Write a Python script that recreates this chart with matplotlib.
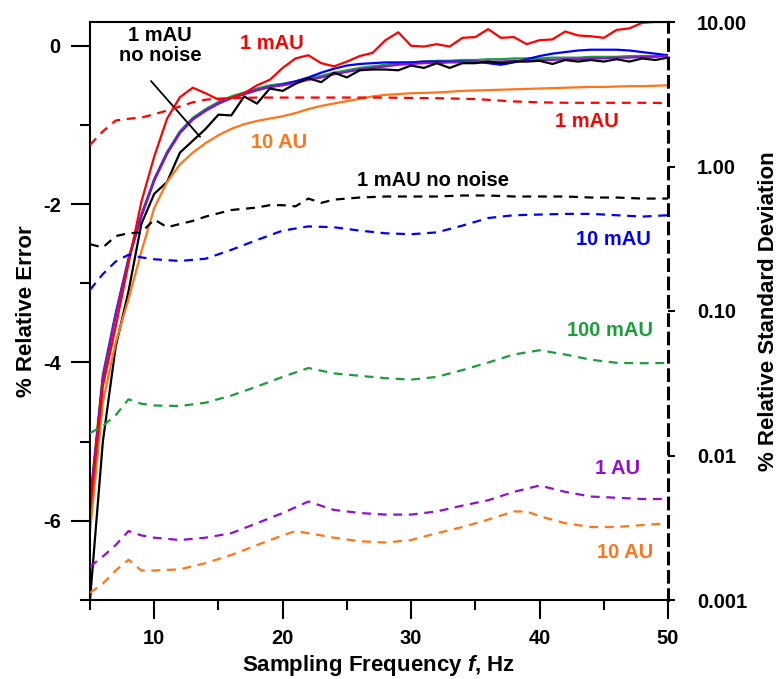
import numpy as np
import matplotlib
matplotlib.use('Agg')
import matplotlib.pyplot as plt
from matplotlib.ticker import FixedLocator, NullLocator, FixedFormatter

plt.rcParams['font.family'] = ['Liberation Sans', 'DejaVu Sans']
plt.rcParams['font.weight'] = 'bold'
plt.rcParams['axes.unicode_minus'] = False
plt.rcParams['mathtext.fontset'] = 'custom'
plt.rcParams['mathtext.it'] = 'Liberation Sans:italic:bold'
plt.rcParams['mathtext.rm'] = 'Liberation Sans:bold'

# sampling frequency (Hz) for the relative error curves
freq = list(range(5, 51))

# % relative error, solid lines (left axis)
err_1mAU = [-5.9, -4.3, -3.55, -2.75, -1.97, -1.4, -0.92, -0.65, -0.53, -0.6,
            -0.68, -0.66, -0.6, -0.5, -0.43, -0.28, -0.16, -0.12, -0.22, -0.26,
            -0.2, -0.13, -0.09, 0.07, 0.17, 0.0, -0.01, 0.02, -0.01, 0.1,
            0.11, 0.21, 0.1, 0.11, 0.02, 0.07, 0.08, 0.18, 0.13, 0.12,
            0.1, 0.2, 0.22, 0.29, 0.3, 0.3]
err_nonoise = [-7.0, -5.0, -3.8, -3.1, -2.25, -1.87, -1.72, -1.35, -1.2, -1.05,
               -0.87, -0.88, -0.64, -0.73, -0.54, -0.57, -0.48, -0.41, -0.46, -0.34,
               -0.4, -0.31, -0.3, -0.3, -0.31, -0.25, -0.28, -0.22, -0.28, -0.22,
               -0.22, -0.2, -0.22, -0.2, -0.2, -0.19, -0.23, -0.18, -0.2, -0.18,
               -0.2, -0.17, -0.2, -0.16, -0.18, -0.15]
err_10mAU = [-5.8, -4.2, -3.4, -2.7, -2.15, -1.7, -1.36, -1.1, -0.93, -0.82,
             -0.73, -0.66, -0.61, -0.56, -0.52, -0.49, -0.45, -0.4, -0.34, -0.29,
             -0.25, -0.23, -0.22, -0.21, -0.21, -0.21, -0.2, -0.2, -0.2, -0.2,
             -0.2, -0.22, -0.24, -0.21, -0.17, -0.13, -0.1, -0.08, -0.06, -0.05,
             -0.05, -0.05, -0.06, -0.08, -0.1, -0.12]
err_100mAU = [-5.75, -4.15, -3.37, -2.68, -2.13, -1.68, -1.34, -1.08, -0.91, -0.8,
              -0.71, -0.64, -0.59, -0.54, -0.5, -0.48, -0.45, -0.41, -0.38, -0.34,
              -0.31, -0.28, -0.26, -0.24, -0.22, -0.21, -0.2, -0.19, -0.19, -0.18,
              -0.18, -0.17, -0.17, -0.16, -0.16, -0.16, -0.15, -0.15, -0.15, -0.14,
              -0.14, -0.14, -0.13, -0.13, -0.13, -0.12]
err_1AU = [-5.8, -4.2, -3.4, -2.7, -2.15, -1.7, -1.36, -1.1, -0.93, -0.82,
           -0.73, -0.66, -0.61, -0.56, -0.52, -0.5, -0.47, -0.43, -0.4, -0.36,
           -0.33, -0.3, -0.28, -0.26, -0.24, -0.23, -0.22, -0.22, -0.21, -0.21,
           -0.2, -0.2, -0.2, -0.19, -0.19, -0.18, -0.18, -0.17, -0.17, -0.16,
           -0.16, -0.15, -0.15, -0.14, -0.14, -0.13]
err_10AU = [-6.14, -4.5, -3.75, -3.2, -2.6, -2.05, -1.72, -1.5, -1.35, -1.23,
            -1.13, -1.05, -0.99, -0.95, -0.92, -0.89, -0.85, -0.8, -0.76, -0.73,
            -0.7, -0.67, -0.64, -0.62, -0.61, -0.6, -0.595, -0.59, -0.58, -0.57,
            -0.565, -0.56, -0.555, -0.55, -0.545, -0.54, -0.535, -0.53, -0.525, -0.52,
            -0.52, -0.515, -0.51, -0.51, -0.505, -0.5]

# % relative standard deviation, dashed lines (right axis, log)
f_rsd_red = [5, 6, 7, 8, 9, 10, 11, 12, 13, 14, 15, 16, 18, 20, 22, 25, 28, 30, 32, 35, 38, 40, 42, 45, 48, 50]
rsd_1mAU = [1.41, 1.75, 2.08, 2.14, 2.18, 2.3, 2.44, 2.6, 2.78, 2.9, 2.95, 2.97, 3.0, 3.0,
            3.0, 3.0, 3.0, 2.98, 2.97, 2.93, 2.82, 2.78, 2.76, 2.76, 2.76, 2.75]
f_rsd_blk = [5, 6, 7, 8, 9, 10, 11, 12, 13, 14, 16, 18, 19, 20, 21, 22, 23, 24, 26, 28,
             30, 32, 34, 36, 38, 40, 42, 44, 46, 48, 50]
rsd_nonoise = [0.29, 0.275, 0.33, 0.345, 0.35, 0.43, 0.38, 0.4, 0.42, 0.45, 0.5, 0.52,
               0.54, 0.54, 0.53, 0.6, 0.56, 0.59, 0.61, 0.62, 0.62, 0.62, 0.63, 0.63,
               0.62, 0.62, 0.62, 0.61, 0.61, 0.6, 0.6]
f_rsd = [5, 6, 7, 8, 9, 10, 12, 14, 16, 18, 20, 22, 24, 26, 28, 30, 32, 34, 36, 38,
         40, 42, 44, 46, 48, 50]
rsd_10mAU = [0.14, 0.18, 0.22, 0.245, 0.235, 0.228, 0.222, 0.23, 0.265, 0.31, 0.36,
             0.385, 0.38, 0.36, 0.345, 0.34, 0.35, 0.39, 0.44, 0.46, 0.465, 0.47,
             0.47, 0.46, 0.45, 0.46]
rsd_100mAU = [0.0143, 0.016, 0.019, 0.0245, 0.0228, 0.0222, 0.022, 0.0232, 0.026, 0.03,
              0.035, 0.0403, 0.037, 0.0356, 0.0343, 0.0335, 0.035, 0.039, 0.044, 0.05,
              0.0535, 0.05, 0.046, 0.0438, 0.0435, 0.0437]
rsd_1AU = [0.0017, 0.002, 0.0024, 0.003, 0.0028, 0.0027, 0.0026, 0.0027, 0.0029, 0.0034,
           0.004, 0.0048, 0.0042, 0.004, 0.0039, 0.0039, 0.0041, 0.0045, 0.0049, 0.0056,
           0.0062, 0.0056, 0.0052, 0.0051, 0.005, 0.005]
f_rsd_org = [5, 6, 7, 8, 9, 10, 12, 14, 16, 18, 20, 21, 22, 24, 26, 28, 30, 32, 34, 36,
             38, 39, 40, 42, 44, 46, 48, 50]
rsd_10AU = [0.00112, 0.0013, 0.0016, 0.0019, 0.0016, 0.0016, 0.00163, 0.0018, 0.00205,
            0.0024, 0.0028, 0.003, 0.0029, 0.0027, 0.00255, 0.0025, 0.0026, 0.0029,
            0.0032, 0.0036, 0.0041, 0.0041, 0.0038, 0.0034, 0.0032, 0.0032, 0.0033, 0.0034]

rsd_ticks = [0.001, 0.01, 0.1, 1, 10]
rsd_ticklabels = ['0.001', '0.01', '0.10', '1.00', '10.00']

RED = '#ff0000'
BLK = '#000000'
BLU = '#0000ff'
GRN = '#1a9e3c'
PUR = '#9010d0'
ORG = '#ff7518'

fig = plt.figure(figsize=(7.8, 6.79), dpi=100)
ax = fig.add_axes([90/780, 1-600/679, 578/780, 578/679])
ax2 = ax.twinx()

lw = 1.6
ax.plot(freq, err_100mAU, color=GRN, lw=lw)
ax.plot(freq, err_10mAU, color=BLU, lw=lw)
ax.plot(freq, err_1AU, color=PUR, lw=lw)
ax.plot(freq, err_nonoise, color=BLK, lw=lw)
ax.plot(freq, err_10AU, color=ORG, lw=lw)
ax.plot(freq, err_1mAU, color=RED, lw=lw)

dash = (0, (4, 3))
ax2.plot(f_rsd_red, rsd_1mAU, color=RED, lw=lw, ls=dash)
ax2.plot(f_rsd_blk, rsd_nonoise, color=BLK, lw=lw, ls=dash)
ax2.plot(f_rsd, rsd_10mAU, color=BLU, lw=lw, ls=dash)
ax2.plot(f_rsd, rsd_100mAU, color=GRN, lw=lw, ls=dash)
ax2.plot(f_rsd, rsd_1AU, color=PUR, lw=lw, ls=dash)
ax2.plot(f_rsd_org, rsd_10AU, color=ORG, lw=lw, ls=dash)

ax.set_xlim(5, 50)
ax.set_ylim(-7, 0.3)
ax2.set_yscale('log')
ax2.set_ylim(0.001, 10)

ax.xaxis.set_major_locator(FixedLocator([10, 20, 30, 40, 50]))
ax.xaxis.set_minor_locator(FixedLocator([5, 15, 25, 35, 45]))
ax.yaxis.set_major_locator(FixedLocator([-6, -4, -2, 0]))
ax.yaxis.set_minor_locator(FixedLocator([-7, -5, -3, -1]))
ax.tick_params(axis='both', which='major', direction='out', length=14, width=1.5,
               labelsize=14.5, pad=7)
ax.tick_params(axis='both', which='minor', direction='out', length=7, width=1.5)
ax.tick_params(axis='y', right=False)

ax2.yaxis.set_major_locator(FixedLocator(rsd_ticks))
ax2.yaxis.set_major_formatter(FixedFormatter(rsd_ticklabels))
ax2.yaxis.set_minor_locator(NullLocator())
ax2.tick_params(axis='y', which='major', direction='out', length=5, width=1.5,
                labelsize=14.5, pad=16)

for s in ['top', 'left', 'bottom']:
    ax.spines[s].set_linewidth(1.5)
ax.spines['right'].set_visible(False)
for s in ['top', 'left', 'bottom']:
    ax2.spines[s].set_visible(False)
ax2.spines['right'].set_linewidth(2.2)
ax2.spines['right'].set_linestyle((0, (3.5, 2.5)))

ax.set_xlabel('Sampling Frequency $f$, Hz', fontsize=16, fontweight='bold', labelpad=3.5)
ax.set_ylabel('% Relative Error', fontsize=16, fontweight='bold', labelpad=4)
ax2.set_ylabel('% Relative Standard Deviation', fontsize=16, fontweight='bold', labelpad=8)

fs = 14.5
ax.text(10.45, 0.0, '1 mAU\nno noise', color=BLK, fontsize=fs, ha='center', va='center',
        linespacing=1.05)
ax.annotate('', xy=(13.57, -1.15), xytext=(9.75, -0.446),
            arrowprops=dict(arrowstyle='-', color=BLK, lw=1.3, shrinkA=0, shrinkB=0))
ax.text(19.17, 0.03, '1 mAU', color=RED, fontsize=fs, ha='center', va='center')
ax.text(19.72, -1.22, '10 AU', color=ORG, fontsize=fs, ha='center', va='center')
ax.text(43.7, -0.96, '1 mAU', color=RED, fontsize=fs, ha='center', va='center')
ax.text(31.7, -1.7, '1 mAU no noise', color=BLK, fontsize=fs, ha='center', va='center')
ax.text(45.73, -2.45, '10 mAU', color=BLU, fontsize=fs, ha='center', va='center')
ax.text(45.5, -3.6, '100 mAU', color=GRN, fontsize=fs, ha='center', va='center')
ax.text(46.1, -5.34, '1 AU', color=PUR, fontsize=fs, ha='center', va='center')
ax.text(46.67, -6.4, '10 AU', color=ORG, fontsize=fs, ha='center', va='center')

fig.savefig('out.png', dpi=100)
